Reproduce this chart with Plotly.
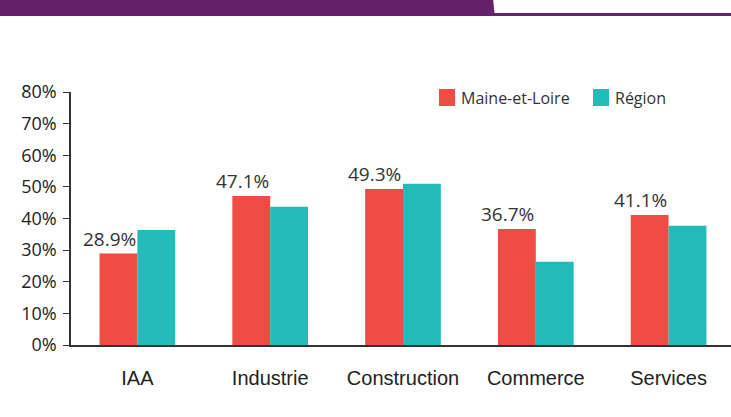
import plotly.graph_objects as go

categories = ["IAA", "Industrie", "Construction", "Commerce", "Services"]
maine_values = [28.9, 47.1, 49.3, 36.7, 41.1]
region_values = [36.4, 43.7, 51.0, 26.3, 37.7]
maine_labels = ["28.9%", "47.1%", "49.3%", "36.7%", "41.1%"]
series_names = ["Maine-et-Loire", "Région"]
y_ticks = [0, 10, 20, 30, 40, 50, 60, 70, 80]
y_tick_labels = ["0%", "10%", "20%", "30%", "40%", "50%", "60%", "70%", "80%"]

RED = "#EE4C45"
TEAL = "#22BBB7"
PURPLE = "#65226B"
FONT = "Open Sans"
CAT_FONT = "Liberation Sans"

W_FIG, H_FIG = 731, 417
ML, MR, MT, MB = 71, 0, 92, 72
W = W_FIG - ML - MR
H = H_FIG - MT - MB


def px_x(p):
    return (p - ML) / W


def px_y(p):
    return (H_FIG - MB - p) / H


fig = go.Figure()
fig.add_trace(go.Bar(name=series_names[0], x=categories, y=maine_values,
                     marker=dict(color=RED, line=dict(width=0))))
fig.add_trace(go.Bar(name=series_names[1], x=categories, y=region_values,
                     marker=dict(color=TEAL, line=dict(width=0))))

for c, v, t in zip(categories, maine_values, maine_labels):
    fig.add_annotation(x=c, y=v, text=t, showarrow=False, xref="x", yref="y",
                       yanchor="bottom", xshift=-28, yshift=0,
                       font=dict(family=FONT, size=19, color="#333333"))

# custom legend
legend_items = [(series_names[0], RED, 439), (series_names[1], TEAL, 593)]
for name, col, x0 in legend_items:
    fig.add_shape(type="rect", xref="paper", yref="paper",
                  x0=px_x(x0), x1=px_x(x0 + 16), y0=px_y(106), y1=px_y(89),
                  fillcolor=col, line=dict(width=0))
    fig.add_annotation(x=px_x(x0 + 20), y=px_y(97.5), xref="paper", yref="paper",
                       text=name, showarrow=False, xanchor="left", yanchor="middle",
                       font=dict(family=FONT, size=16, color="#333333"))

# top banner
fig.add_shape(type="rect", xref="paper", yref="paper",
              x0=px_x(0), x1=px_x(731), y0=px_y(16), y1=px_y(-2),
              fillcolor=PURPLE, line=dict(width=0), layer="above")
fig.add_shape(type="path", xref="paper", yref="paper", layer="above",
              path=f"M {px_x(493)} {px_y(-2)} L {px_x(731)} {px_y(-2)} L {px_x(731)} {px_y(13)} L {px_x(494.5)} {px_y(13)} Z",
              fillcolor="white", line=dict(width=0))

fig.update_layout(
    width=W_FIG, height=H_FIG,
    margin=dict(l=ML, r=MR, t=MT, b=MB),
    paper_bgcolor="white", plot_bgcolor="white",
    barmode="group", bargap=0.43, bargroupgap=0,
    font=dict(family=FONT, size=15, color="#333333"),
    showlegend=False,
    xaxis=dict(showline=True, linecolor="#333333", linewidth=1.5, ticks="",
               showgrid=False, tickfont=dict(family=CAT_FONT, size=20, color="#222222"),
               ticklabelstandoff=14, range=[-0.5, 4.47]),
    yaxis=dict(range=[0, 80], tickvals=y_ticks, ticktext=y_tick_labels,
               showline=True, linecolor="#333333", linewidth=1.5,
               ticks="outside", ticklen=6, tickcolor="#333333", tickwidth=1.2,
               showgrid=False, zeroline=False,
               tickfont=dict(family=FONT, size=18, color="#222222"),
               ticklabelstandoff=3),
)

fig.write_html("out.html", config={"displayModeBar": False},
               post_script="document.body.style.margin='0';document.body.style.overflow='hidden';")
